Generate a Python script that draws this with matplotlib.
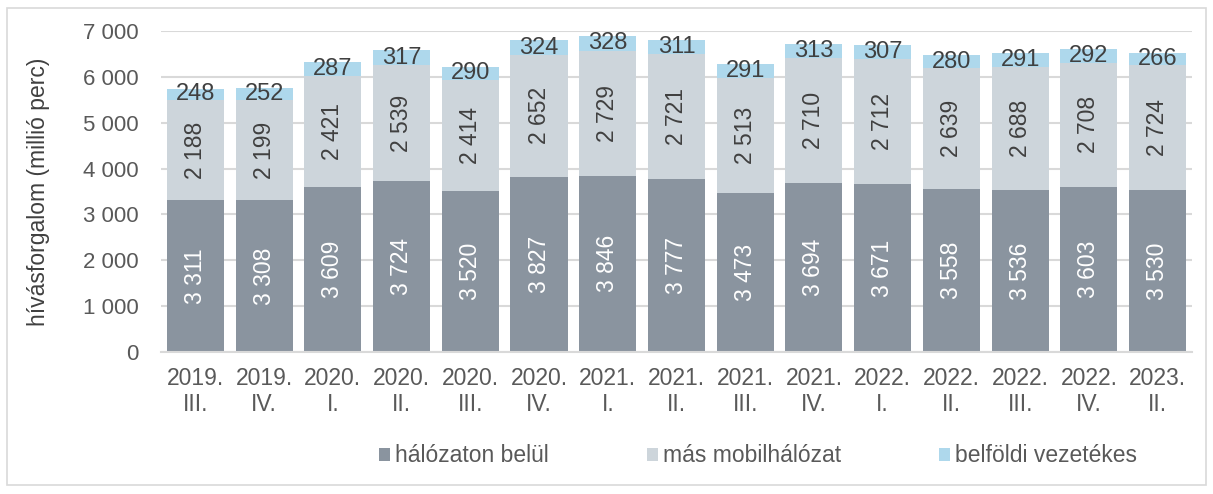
import matplotlib.pyplot as plt
import numpy as np
from matplotlib.patches import Rectangle

plt.rcParams['font.family'] = ['Liberation Sans', 'DejaVu Sans']

# negyedevek
periods = ['2019.\nIII.', '2019.\nIV.', '2020.\nI.', '2020.\nII.', '2020.\nIII.', '2020.\nIV.',
           '2021.\nI.', '2021.\nII.', '2021.\nIII.', '2021.\nIV.', '2022.\nI.', '2022.\nII.',
           '2022.\nIII.', '2022.\nIV.', '2023.\nII.']
halozaton_belul = [3311, 3308, 3609, 3724, 3520, 3827, 3846, 3777, 3473, 3694, 3671, 3558, 3536, 3603, 3530]
mas_mobil = [2188, 2199, 2421, 2539, 2414, 2652, 2729, 2721, 2513, 2710, 2712, 2639, 2688, 2708, 2724]
belfoldi_vez = [248, 252, 287, 317, 290, 324, 328, 311, 291, 313, 307, 280, 291, 292, 266]

c_dark = '#8a949f'
c_light = '#cdd5db'
c_blue = '#aed8ec'
txt = '#404040'


def fmt(v):
    return '{:,}'.format(v).replace(',', ' ')


fig = plt.figure(figsize=(12.13, 4.94), dpi=100)
fig.patches.append(Rectangle((0.006, 0.018), 0.988, 0.966, transform=fig.transFigure,
                             fill=False, edgecolor='#d9d9d9', linewidth=1.2))
ax = fig.add_axes([0.1327, 0.2874, 0.85, 0.6496])

x = np.arange(len(periods))
a = np.array(halozaton_belul)
b = np.array(mas_mobil)
c = np.array(belfoldi_vez)
w = 0.83
ax.bar(x, a, w, color=c_dark, label='hálózaton belül', zorder=2)
ax.bar(x, b, w, bottom=a, color=c_light, label='más mobilhálózat', zorder=2)
ax.bar(x, c, w, bottom=a + b, color=c_blue, label='belföldi vezetékes', zorder=2)

for i in range(len(x)):
    ax.text(x[i], a[i] / 2, fmt(a[i]), rotation=90, ha='center', va='center',
            color='white', fontsize=16.5, zorder=3)
    ax.text(x[i], a[i] + b[i] / 2, fmt(b[i]), rotation=90, ha='center', va='center',
            color=txt, fontsize=16.5, zorder=3)
    ax.text(x[i], a[i] + b[i] + c[i] / 2, fmt(c[i]), ha='center', va='center',
            color=txt, fontsize=17, zorder=3)

ax.set_xlim(-0.5, len(x) - 0.5)
ax.set_ylim(0, 7000)
ax.set_yticks(range(0, 7001, 1000))
ax.set_yticklabels([fmt(v) for v in range(0, 7001, 1000)])
ax.set_xticks(x)
ax.set_xticklabels(periods, linespacing=1.15)
ax.tick_params(axis='y', length=0, labelsize=16, colors='#595959', pad=16)
ax.tick_params(axis='x', length=0, labelsize=16.5, colors='#595959', pad=11)
ax.yaxis.grid(True, color='#d9d9d9', linewidth=1.5, zorder=0)
ax.set_axisbelow(True)
for s in ['top', 'right', 'left']:
    ax.spines[s].set_visible(False)
ax.spines['bottom'].set_color('#d9d9d9')
ax.spines['bottom'].set_linewidth(1.5)

ax.set_ylabel('hívásforgalom (millió perc)', fontsize=16.5, color='#404040')
ax.yaxis.set_label_coords(-0.108, 0.5)

ax.legend(loc='center', bbox_to_anchor=(0.579, -0.324), ncol=3, frameon=False,
          fontsize=16.5, handlelength=0.48, handleheight=0.48, handletextpad=0.22,
          columnspacing=4.27, labelcolor='#595959')

fig.savefig('out.png', dpi=100)
